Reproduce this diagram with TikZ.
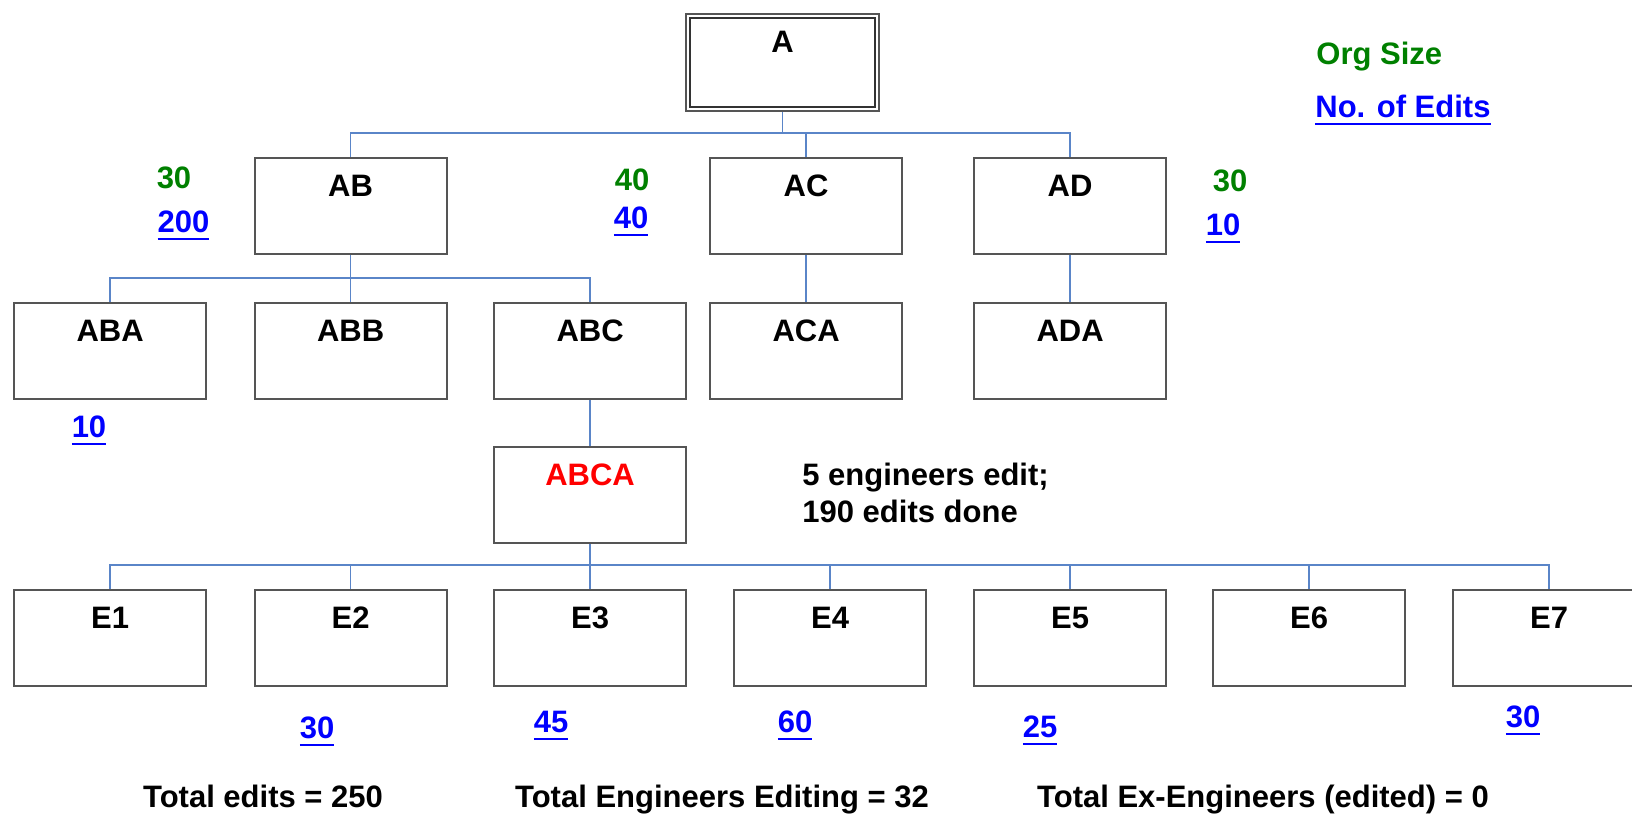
\documentclass[tikz,border=0pt]{standalone}
\usepackage{fontspec}
\setmainfont{Liberation Sans}
\definecolor{conncol}{HTML}{5A85C8}
\definecolor{orggreen}{HTML}{008000}
\definecolor{editblue}{HTML}{0000FF}
\definecolor{boxcol}{HTML}{555555}
\newcommand\myul[1]{\setbox0\hbox{#1}\rlap{\rule[-4.2pt]{\wd0}{1.2pt}}\box0}
\tikzset{
  every node/.style={font=\fontsize{15.5pt}{18.5pt}\selectfont\bfseries, inner sep=0pt},
  box/.style={draw=boxcol, line width=1.1pt, fill=white, rectangle, anchor=north west,
    minimum width=96pt, inner xsep=0pt, inner ysep=0pt, text height=19pt, text depth=29pt},
  conn/.style={draw=conncol, line width=0.85pt},
  orgnum/.style={text=orggreen, anchor=base},
  editnum/.style={text=editblue, anchor=base},
  plain/.style={text=black, anchor=base},
}
\begin{document}
\begin{tikzpicture}[x=0.5pt,y=-0.5pt]
\useasboundingbox (0,0) rectangle (1632,815);
\clip (0,0) rectangle (1632,815);
% coordinates for bus levels
\coordinate (bus1) at (0,133);
\coordinate (bus2) at (0,278);
\coordinate (bus3) at (0,565);
% nodes
\node[box, minimum width=96.5pt, text depth=29.5pt] (A) at (685,13) {A};
\node[box] (AB) at (253.5,157) {AB};
\node[box] (AC) at (709,157) {AC};
\node[box] (AD) at (973,157) {AD};
\node[box] (ABA) at (13,302) {ABA};
\node[box] (ABB) at (253.5,302) {ABB};
\node[box] (ABC) at (493,302) {ABC};
\node[box] (ACA) at (709,302) {ACA};
\node[box] (ADA) at (973,302) {ADA};
\node[box, text=red] (ABCA) at (493,446) {ABCA};
\node[box] (E1) at (13,589) {E1};
\node[box] (E2) at (253.5,589) {E2};
\node[box] (E3) at (493,589) {E3};
\node[box] (E4) at (733,589) {E4};
\node[box] (E5) at (973,589) {E5};
\node[box] (E6) at (1212,589) {E6};
\node[box] (E7) at (1452,589) {E7};
% inner border of A
\draw[draw=black!80, line width=0.9pt] ([shift={(5,5)}]A.north west) rectangle ([shift={(-5,-5)}]A.south east);
% connectors
\draw[conn] (A.south) -- (A.south |- bus1);
\draw[conn] (AB.north) -- (AB.north |- bus1) -- (AD.north |- bus1) -- (AD.north);
\draw[conn] (AC.north) -- (AC.north |- bus1);
\draw[conn] (AB.south) -- (ABB.north);
\draw[conn] (ABA.north) -- (ABA.north |- bus2) -- (ABC.north |- bus2) -- (ABC.north);
\draw[conn] (AC.south) -- (ACA.north);
\draw[conn] (AD.south) -- (ADA.north);
\draw[conn] (ABC.south) -- (ABCA.north);
\draw[conn] (ABCA.south) -- (E3.north);
\draw[conn] (E1.north) -- (E1.north |- bus3) -- (E7.north |- bus3) -- (E7.north);
\foreach \e in {E2,E4,E5,E6}{
  \draw[conn] (\e.north) -- (\e.north |- bus3);
}
% legend
\node[orgnum, anchor=base west] (lgorg) at (1316,64) {Org Size};
\node[editnum, anchor=base west] (lged) at (1315,117) {\myul{No. of Edits}};
% org size / edits
\node[orgnum] (oAB) at (174,188) {30};
\node[editnum] (eAB) at (183.5,232) {\myul{200}};
\node[orgnum] (oAC) at (632,190) {40};
\node[editnum] (eAC) at (631,228) {\myul{40}};
\node[orgnum] (oAD) at (1230,191) {30};
\node[editnum] (eAD) at (1223,235) {\myul{10}};
\node[editnum] (eABA) at (89,437) {\myul{10}};
% ABCA note
\node[plain, anchor=base west] (note1) at (802,485) {5 engineers edit;};
\node[plain, anchor=base west] (note2) at (802,522) {190 edits done};
% engineer edits
\node[editnum] (eE2) at (317,738) {\myul{30}};
\node[editnum] (eE3) at (551,732) {\myul{45}};
\node[editnum] (eE4) at (795,732) {\myul{60}};
\node[editnum] (eE5) at (1040,737) {\myul{25}};
\node[editnum] (eE7) at (1523,727) {\myul{30}};
% totals
\node[plain] (t1) at (263,807) {Total edits = 250};
\node[plain] (t2) at (722,807) {Total Engineers Editing = 32};
\node[plain] (t3) at (1263,807) {Total Ex-Engineers (edited) = 0};
\end{tikzpicture}
\end{document}
